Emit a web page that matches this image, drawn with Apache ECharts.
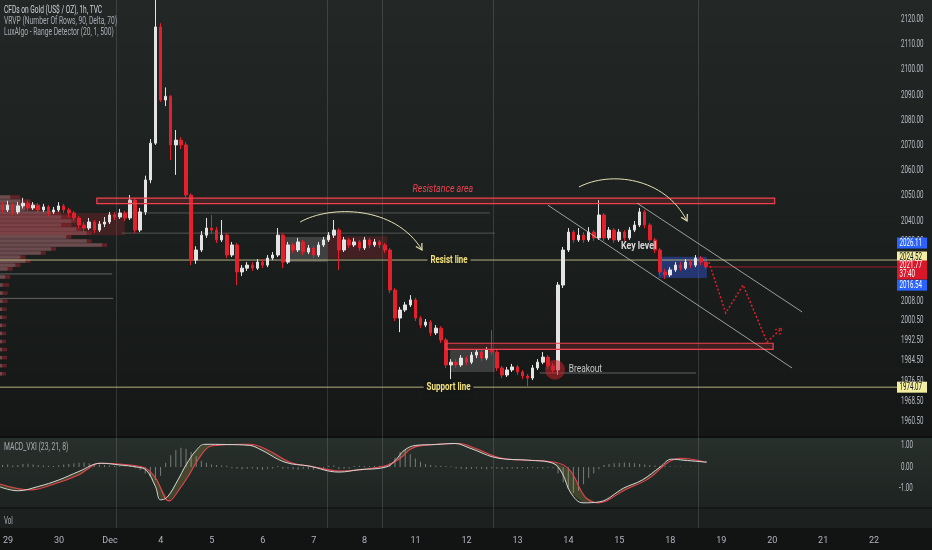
<!DOCTYPE html>
<html><head><meta charset="utf-8">
<script src="https://cdn.jsdelivr.net/npm/echarts@6/dist/echarts.min.js"></script>
<style>html,body{margin:0;padding:0;background:#131514;}#c{width:932px;height:550px;}</style>
</head><body><div id="c"></div>
<script>
// ---------- data ----------
const dayLabels = ['29','30','Dec','4','5','6','7','8','11','12','13','14','15','18','19','20','21','22'];
// [open, close, low, high]
const candles = [
[2046.3,2044.4,2043.2,2047.5],[2044.4,2046.3,2043.6,2048.0],[2046.3,2043.6,2042.4,2047.1],[2043.6,2046.0,2042.8,2047.5],
[2046.0,2047.1,2045.0,2049.2],[2047.1,2045.2,2044.0,2048.0],[2045.2,2046.3,2044.4,2047.5],[2046.3,2044.4,2043.2,2047.1],
[2044.4,2045.6,2043.6,2046.8],[2045.6,2043.6,2042.0,2046.3],[2043.6,2044.4,2042.8,2045.6],[2044.4,2046.0,2043.6,2047.5],
[2046.0,2044.4,2043.2,2046.8],[2044.4,2043.2,2041.6,2045.2],[2043.2,2041.2,2040.0,2044.0],[2041.2,2038.4,2037.2,2042.0],
[2038.4,2037.2,2035.6,2039.6],[2037.2,2039.6,2036.4,2041.2],[2039.6,2036.4,2035.2,2040.4],[2036.4,2038.8,2035.6,2040.0],
[2038.8,2039.6,2037.6,2041.6],[2039.6,2042.4,2038.8,2043.6],[2042.4,2041.6,2040.4,2043.6],[2041.6,2043.2,2040.8,2044.8],
[2043.2,2041.2,2040.0,2044.0],[2041.2,2048.3,2040.4,2050.3],[2048.3,2036.4,2035.2,2049.2],[2036.4,2043.6,2035.6,2045.2],
[2043.6,2056.3,2042.4,2058.0],[2056.3,2070.9,2055.0,2072.5],[2070.9,2117.0,2070.2,2135.0],[2117.0,2088.0,2087.2,2118.5],
[2088.0,2089.5,2085.6,2093.0],[2089.5,2070.2,2064.2,2090.0],[2070.2,2072.1,2058.3,2076.1],[2072.1,2070.2,2068.6,2073.3],
[2070.2,2050.3,2049.2,2071.3],[2050.3,2024.5,2022.5,2051.0],[2024.5,2028.5,2023.0,2030.0],[2028.5,2034.4,2027.7,2036.0],
[2034.4,2037.2,2033.3,2041.2],[2037.2,2036.4,2034.8,2042.4],[2036.4,2032.5,2031.3,2037.6],[2032.5,2034.4,2031.7,2040.4],
[2034.4,2026.5,2025.3,2035.2],[2026.5,2030.5,2025.7,2031.7],[2030.5,2019.8,2014.6,2031.3],[2019.8,2021.3,2018.2,2022.5],
[2021.3,2022.5,2020.2,2023.7],[2022.5,2021.3,2020.2,2023.7],[2021.3,2023.7,2020.6,2024.9],[2023.7,2022.5,2021.3,2024.9],
[2022.5,2025.3,2021.7,2026.5],[2025.3,2026.5,2024.5,2027.7],[2026.5,2034.4,2025.7,2037.2],[2034.4,2023.7,2021.3,2035.2],
[2023.7,2030.5,2023.0,2031.7],[2030.5,2028.5,2027.3,2031.3],[2028.5,2031.7,2027.7,2033.3],[2031.7,2027.7,2026.5,2032.5],
[2027.7,2029.3,2026.9,2030.5],[2029.3,2026.5,2025.3,2030.1],[2026.5,2030.5,2025.7,2031.7],[2030.5,2032.5,2029.7,2033.7],
[2032.5,2034.4,2031.7,2035.6],[2034.4,2036.4,2033.3,2040.4],[2036.4,2028.5,2020.6,2037.2],[2028.5,2032.5,2027.7,2033.7],
[2032.5,2030.5,2029.3,2033.3],[2030.5,2031.7,2029.7,2033.3],[2031.7,2029.3,2028.1,2032.5],[2029.3,2032.5,2028.5,2033.7],
[2032.5,2030.5,2029.3,2033.3],[2030.5,2031.7,2029.7,2032.9],[2031.7,2030.5,2029.3,2032.5],[2030.5,2028.5,2027.3,2031.3],
[2028.5,2012.6,2011.4,2029.3],[2012.6,2001.5,2000.3,2013.4],[2001.5,2004.7,1995.9,2005.9],[2004.7,2006.7,2003.9,2007.9],
[2006.7,2008.7,2005.9,2010.6],[2008.7,2001.5,2000.3,2009.5],[2001.5,1998.7,1997.5,2002.3],[1998.7,1999.9,1997.9,2001.1],
[1999.9,1995.6,1994.4,2000.7],[1995.6,1997.5,1994.8,1998.7],[1997.5,1992.8,1991.6,1998.3],[1992.8,1982.9,1981.7,1993.6],
[1982.9,1984.0,1977.3,1985.2],[1984.0,1982.9,1981.7,1985.2],[1982.9,1985.6,1982.1,1986.8],[1985.6,1984.0,1982.9,1986.4],
[1984.0,1986.8,1983.2,1988.0],[1986.8,1988.0,1985.6,1989.2],[1988.0,1985.6,1984.4,1988.8],[1985.6,1988.8,1984.8,1990.0],
[1988.8,1988.0,1986.8,1996.7],[1988.0,1981.7,1980.5,1989.2],[1981.7,1978.9,1977.7,1982.5],[1978.9,1980.9,1978.1,1982.1],
[1980.9,1982.1,1980.1,1983.3],[1982.1,1980.1,1978.9,1982.9],[1980.1,1978.5,1977.3,1980.9],[1978.5,1977.7,1974.1,1979.3],
[1977.7,1981.7,1976.9,1982.9],[1981.7,1984.0,1980.9,1985.2],[1984.0,1986.0,1983.2,1988.0],[1986.0,1982.5,1981.3,1986.8],
[1982.5,1980.9,1979.7,1983.7],[1980.9,2014.6,1978.9,2015.8],[2014.6,2028.5,2013.4,2029.7],[2028.5,2035.6,2027.7,2037.2],
[2035.6,2032.5,2031.3,2036.4],[2032.5,2034.4,2031.7,2037.2],[2034.4,2032.5,2031.3,2035.6],[2032.5,2035.6,2031.7,2037.6],
[2035.6,2033.3,2032.1,2036.4],[2033.3,2042.4,2032.5,2048.3],[2042.4,2033.3,2032.1,2043.2],[2033.3,2036.4,2032.5,2037.6],
[2036.4,2032.5,2031.3,2037.2],[2032.5,2035.6,2031.7,2036.8],[2035.6,2033.3,2032.1,2036.4],[2033.3,2036.4,2032.5,2037.6],
[2036.4,2038.4,2035.6,2040.0],[2038.4,2043.6,2037.6,2045.2],[2043.6,2038.4,2037.2,2044.4],[2038.4,2032.5,2031.3,2039.2],
[2032.5,2028.5,2027.3,2033.3],[2028.5,2019.8,2018.6,2029.3],[2019.8,2018.6,2017.0,2021.0],[2018.6,2020.6,2017.8,2021.7],
[2020.6,2022.5,2019.8,2023.7],[2022.5,2021.3,2020.2,2023.7],[2021.3,2023.7,2020.6,2024.9],[2023.7,2022.5,2021.3,2024.5],
[2022.5,2025.3,2021.7,2026.5],[2025.3,2023.7,2022.5,2026.1],[2023.7,2021.8,2021.0,2024.5]
];
const priceTicks = [2120,2110,2100,2090,2080,2070,2060,2050,2040,2032,2008,2000.5,1992.5,1984.5,1976.5,1968.5,1960.5];
const macdTicks = [1,0,-1];
const macdPts = [[-0.5,-0.92],[3,-1.1],[7,-0.9],[11,-0.6],[15,-0.2],[19.3,0.18],[23,0.1],[26.4,0.0],[28.2,-0.14],[30,-0.9],[31,-1.52],[32.3,-1.4],[34.4,-0.6],[36,0.1],[38,0.78],[39.7,1.06],[44,1.05],[48.5,1.01],[50.9,0.78],[55.4,0.23],[60.1,0.05],[66,-0.23],[70,-0.12],[75.2,0.0],[77,0.3],[78.8,0.78],[81.1,1.01],[85,1.05],[88.8,1.1],[91.7,0.88],[97.4,0.41],[103.3,0.32],[108,0.18],[109.8,-0.28],[111.5,-1.2],[113.9,-1.66],[117.2,-1.61],[121.9,-0.97],[125.5,-0.6],[129,0.0],[131.3,0.37],[133.7,0.32],[138.2,0.23]];
const signalPts = [[-0.5,-0.78],[5.4,-1.06],[10,-0.8],[15,-0.35],[19.1,0.18],[24,0.12],[28,-0.05],[30,-0.5],[32.7,-1.57],[34.5,-1.1],[36.8,-0.28],[38.5,0.4],[40.3,0.92],[42,1.01],[48.5,1.06],[52,0.8],[56.4,0.23],[61,0.02],[66.2,-0.18],[75,0.05],[78,0.4],[80,0.83],[82,1.0],[89.7,1.1],[92.7,0.88],[98,0.41],[108.4,0.23],[111.3,-0.14],[114.3,-1.38],[116.8,-1.66],[122.1,-1.06],[127,-0.5],[130.6,0.23],[133,0.41],[138,0.23]];
const macdHist = [0.10,0.12,0.08,0.10,0.14,0.16,0.12,0.10,0.08,0.06,
0.05,0.08,0.12,0.14,0.18,0.20,0.22,0.18,0.15,0.12,
0.10,0.08,0.06,0.05,0.04,0.06,-0.05,-0.15,-0.30,-0.45,
-0.60,-0.40,0.20,0.55,0.80,0.90,0.85,0.70,0.50,0.30,
0.20,0.12,0.10,0.08,0.06,-0.05,-0.08,-0.10,-0.08,-0.06,
-0.10,-0.12,-0.08,-0.06,0.05,-0.08,-0.06,-0.10,-0.12,-0.08,
-0.10,-0.12,-0.08,-0.06,0.06,0.08,-0.10,-0.08,-0.06,0.05,
0.06,0.05,0.04,0.05,0.06,0.08,0.20,0.45,0.70,0.80,
0.60,0.40,0.25,0.15,0.10,0.08,0.06,0.05,0.04,-0.05,
-0.08,-0.10,-0.08,-0.06,-0.08,-0.10,-0.06,-0.08,-0.10,-0.08,
-0.06,-0.08,-0.05,-0.06,-0.04,-0.05,-0.06,-0.04,-0.05,-0.30,
-0.70,-1.00,-1.20,-1.10,-0.80,-0.50,-0.30,-0.10,0.10,0.15,
0.18,0.20,0.22,0.20,0.18,0.15,0.12,0.10,0.08,0.06,
0.05,0.04,0.03,0.03,0.02,0.02,0.02,0.01,0.01];
// volume profile rows: [price, up length, total length] (length in bar units)
const vrvpRows = [[2049.5,2,4],[2047.9,4,6],[2046.3,5,7],[2044.8,5,8],[2043.2,10,12],[2041.6,12,14],[2040.0,14,15],[2038.4,12,14],[2036.8,15,16],[2035.2,17,18],[2033.7,13,14],[2032.1,17,18],[2030.5,20,21],[2028.9,10,11],[2027.3,8,9],[2025.7,4,5],[2024.1,5,6],[2022.5,3,4],[2021.0,1.5,2.5],[2017.8,1,2],[2014.6,0.5,1.8],[2011.4,0.5,1.5],[2008.2,0.5,1.5],[2005.0,0.4,1.3],[2001.8,0.4,1.3],[1998.6,0.4,1.2],[1995.4,0.4,1.2],[1992.2,0.4,1.2],[1989.0,0.4,1.4],[1985.8,0.4,1.4],[1982.6,0.4,1.3],[1979.4,0.4,1.2]];
const vrvpLines = [[2019.0,21.5],[2009.3,21.7]];
// annotations (bar index, price)
const sessionLines = [22.3,63.6,74.4,96.2,136.4];
const resistArea = [18.5,151.5,2049.1,2046.9];
const supportBox = [87.0,151.2,1991.5,1989.1];
const rangeBoxes = [[-0.5,24.0,2043.2,2034.4,'r'],[55.3,63.7,2033.7,2023.7,'g'],[63.7,75.5,2034.0,2025.0,'r'],[87.8,96.6,1988.8,1980.1,'g'],[128.7,138.2,2025.8,2017.4,'b']];
const rangeLines = [[24.4,95.6,2043.2],[23.4,96.6,2035.2]];
const resistLevel = 2024.52, supportLevel = 1974.07, lastPrice = 2021.77;
const upperChannel = [[124.5,2047.1],[156.9,2003.9]];
const lowerChannel = [[107.0,2046.3],[154.9,1981.7]];
const projection = [[138.6,2023.7],[141.9,2003.5],[145.3,2014.6],[150.0,1992.0],[152.9,1997.5]];
const arc1 = [[58.4,2039.6],[64.2,2046.3],[77.0,2046.3],[82.3,2028.5]];
const arc2 = [[113.1,2053.5],[119.2,2059.9],[129.9,2057.5],[134.3,2040.0]];
const breakoutPt = [108.4,1981.0];
const breakoutLine = [105.4,136.1,1979.7];
// tag: [price, background, text colour, vertical nudge px]
const tags = [[1974.07,'#f4eea0','#131722',0],[2016.54,'#2962ff','#ffffff',5],[2026.11,'#2962ff','#ffffff',-13],[2024.52,'#f4eea0','#131722',-3],[2021.77,'#d8182a','#ffffff',-1]];

// ---------- chart ----------
const N = 176;
const cats = [];
for (let i = 0; i < N; i++) {
  const d = Math.floor((i - 1) / 10), s = ((i - 1) % 10 + 10) % 10;
  cats.push((d < 0 ? '28' : dayLabels[d]) + '|' + s + '|' + i);
}
const chart = echarts.init(document.getElementById('c'));
const W = 897;
const bg = [
  {type:'rect', z:-10, shape:{x:0,y:0,width:932,height:437}, style:{fill:new echarts.graphic.LinearGradient(0,0,0,1,[{offset:0,color:'#232826'},{offset:1,color:'#141716'}])}},
  {type:'rect', z:-10, shape:{x:0,y:437,width:932,height:71}, style:{fill:new echarts.graphic.LinearGradient(0,0,0,1,[{offset:0,color:'#28302c'},{offset:1,color:'#1d2320'}])}},
  {type:'rect', z:-10, shape:{x:0,y:508,width:932,height:20}, style:{fill:'#1c211f'}},
  {type:'rect', z:-10, shape:{x:0,y:528,width:932,height:22}, style:{fill:'#121413'}},
  {type:'rect', z:-9, shape:{x:0,y:436,width:932,height:2}, style:{fill:'#0e100f'}},
  {type:'rect', z:-9, shape:{x:0,y:507,width:932,height:2}, style:{fill:'#141716'}}
];
chart.setOption({
  animation:false,
  backgroundColor:'#131514',
  grid:[
    {left:0, width:W, top:0, height:437},
    {left:0, width:W, top:437, height:71},
    {left:0, width:W, top:508, height:20}
  ],
  xAxis:[
    {type:'category', data:cats, gridIndex:0, boundaryGap:true, axisLine:{show:false}, axisTick:{show:false}, axisLabel:{show:false}, splitLine:{show:false}},
    {type:'value', gridIndex:0, min:-0.5, max:N-0.5, show:false},
    {type:'category', data:cats, gridIndex:1, show:false},
    {type:'value', gridIndex:1, min:-0.5, max:N-0.5, show:false},
    {type:'category', data:cats, gridIndex:2, boundaryGap:true, axisLine:{show:false}, axisTick:{show:false}, splitLine:{show:false},
      axisLabel:{show:true, margin:8, color:'#b2b5be', fontSize:9, fontFamily:'Roboto', hideOverlap:false,
        interval:function(idx, val){ return val.split('|')[1] === '0'; },
        formatter:function(val){ return val.split('|')[0]; }}}
  ],
  yAxis:[
    {type:'value', gridIndex:0, min:1954.3, max:2127.7, position:'right', axisLabel:{show:false}, axisLine:{show:false}, axisTick:{show:false}, splitLine:{show:false}},
    {type:'value', gridIndex:1, min:-1.9, max:1.4, show:false, splitLine:{show:false}},
    {type:'value', gridIndex:2, show:false}
  ],
  graphic: bg,
  series:[
    {type:'candlestick', xAxisIndex:0, yAxisIndex:0, data:candles, barWidth:3, clip:true, z:5,
      itemStyle:{color:'#e4e4e4', color0:'#e3202c', borderColor:'#e4e4e4', borderColor0:'#e3202c', borderWidth:1}},
    {type:'bar', xAxisIndex:2, yAxisIndex:1, data:macdHist, barWidth:1, itemStyle:{color:'rgba(205,205,205,0.5)'}, z:2},
    {type:'line', xAxisIndex:3, yAxisIndex:1, data:signalPts, smooth:0.4, symbol:'none', lineStyle:{color:'#e8424e', width:1.1}, z:4},
    {type:'line', xAxisIndex:3, yAxisIndex:1, data:macdPts, smooth:0.4, symbol:'none', lineStyle:{color:'#d6d6d6', width:1}, z:5}
  ]
});

function X(v){ return chart.convertToPixel({xAxisIndex:1}, v); }
function Y(p){ return chart.convertToPixel({yAxisIndex:0}, p); }
function MX(v){ return chart.convertToPixel({xAxisIndex:3}, v); }
function MY(v){ return chart.convertToPixel({yAxisIndex:1}, v); }
const g = bg.slice();
function txt(t, x, y, o){
  o = o || {};
  g.push({type:'text', x:x, y:y, z:o.z || 60, scaleX:o.sx || 0.62, style:{text:t, fill:o.fill || '#b2b5be', fontSize:o.fs || 10, fontFamily:'Roboto',
    fontWeight:o.fw || 'normal', fontStyle:o.fst || 'normal', align:o.align || 'left', verticalAlign:'middle',
    backgroundColor:o.bg, padding:o.pad}});
}
function rectD(x1, x2, p1, p2, style, z){
  const a = X(x1), b = X(x2), c = Y(p1), d = Y(p2);
  g.push({type:'rect', z:z || 1, shape:{x:Math.min(a,b), y:Math.min(c,d), width:Math.abs(b-a), height:Math.abs(d-c)}, style:style});
}
function arrowHead(p, q, color, dash){
  const dx = q[0]-p[0], dy = q[1]-p[1], L = Math.hypot(dx,dy), ux = dx/L, uy = dy/L, s = 7;
  const a = [q[0] - s*(ux*0.87 - uy*0.5), q[1] - s*(uy*0.87 + ux*0.5)];
  const b = [q[0] - s*(ux*0.87 + uy*0.5), q[1] - s*(uy*0.87 - ux*0.5)];
  g.push({type:'polyline', z:30, shape:{points:[a, q, b]}, style:{stroke:color, lineWidth:1.2, fill:null, lineDash:dash}});
}
// session separators
sessionLines.forEach(function(v){
  const x = Math.round(X(v)) + 0.5;
  g.push({type:'line', z:0, shape:{x1:x, y1:0, x2:x, y2:528}, style:{stroke:'rgba(210,210,210,0.16)', lineWidth:1}});
});
// volume profile
vrvpRows.forEach(function(r){
  const y = Y(r[0]);
  const x0 = X(-0.5);
  g.push({type:'rect', z:1, shape:{x:x0, y:y-1.8, width:X(-0.5+r[2])-x0, height:3.6}, style:{fill:'rgba(170,35,45,0.5)'}});
  g.push({type:'rect', z:1, shape:{x:x0, y:y-1.8, width:X(-0.5+r[1])-x0, height:3.6}, style:{fill:'rgba(115,120,120,0.5)'}});
});
vrvpLines.forEach(function(l){
  g.push({type:'line', z:1, shape:{x1:X(-0.5), y1:Y(l[0]), x2:X(l[1]), y2:Y(l[0])}, style:{stroke:'rgba(150,150,150,0.6)', lineWidth:1}});
});
// range boxes
const boxFill = {r:'rgba(160,40,50,0.3)', g:'rgba(190,190,190,0.22)', b:'rgba(45,80,200,0.5)'};
rangeBoxes.forEach(function(b){ rectD(b[0], b[1], b[2], b[3], {fill:boxFill[b[4]]}, 1); });
rangeLines.forEach(function(l){
  g.push({type:'line', z:1, shape:{x1:X(l[0]), y1:Y(l[2]), x2:X(l[1]), y2:Y(l[2])}, style:{stroke:'rgba(150,150,150,0.45)', lineWidth:1}});
});
// level lines
[resistLevel, supportLevel].forEach(function(p){
  g.push({type:'line', z:3, shape:{x1:0, y1:Y(p), x2:W, y2:Y(p)}, style:{stroke:'#cfc98f', lineWidth:1, opacity:0.85}});
});
g.push({type:'line', z:3, shape:{x1:X(candles.length-0.5), y1:Y(lastPrice), x2:W, y2:Y(lastPrice)}, style:{stroke:'rgba(216,24,42,0.7)', lineWidth:1}});
// resistance / support zones
rectD(resistArea[0], resistArea[1], resistArea[2], resistArea[3], {fill:'rgba(242,54,69,0.18)', stroke:'#f04050', lineWidth:1.2}, 8);
rectD(supportBox[0], supportBox[1], supportBox[2], supportBox[3], {fill:'rgba(242,54,69,0.18)', stroke:'#f04050', lineWidth:1.2}, 8);
// channels
[upperChannel, lowerChannel].forEach(function(c){
  g.push({type:'line', z:20, shape:{x1:X(c[0][0]), y1:Y(c[0][1]), x2:X(c[1][0]), y2:Y(c[1][1])}, style:{stroke:'rgba(200,200,200,0.75)', lineWidth:1}});
});
// projection
const pp = projection.map(function(p){ return [X(p[0]), Y(p[1])]; });
g.push({type:'polyline', z:30, shape:{points:pp}, style:{stroke:'#e3202c', lineWidth:1.5, fill:null, lineDash:[2,2]}});
arrowHead(pp[pp.length-2], pp[pp.length-1], '#e3202c', [2,2]);
// arcs
[arc1, arc2].forEach(function(a){
  const q = a.map(function(p){ return [X(p[0]), Y(p[1])]; });
  g.push({type:'bezierCurve', z:30, shape:{x1:q[0][0], y1:q[0][1], cpx1:q[1][0], cpy1:q[1][1], cpx2:q[2][0], cpy2:q[2][1], x2:q[3][0], y2:q[3][1]}, style:{stroke:'#e6e2b4', lineWidth:1, fill:null}});
  arrowHead(q[2], q[3], '#e6e2b4');
});
// breakout
g.push({type:'circle', z:25, shape:{cx:X(breakoutPt[0]), cy:Y(breakoutPt[1]), r:10}, style:{fill:'rgba(200,35,45,0.55)'}});
g.push({type:'line', z:2, shape:{x1:X(breakoutLine[0]), y1:Y(breakoutLine[2]), x2:X(breakoutLine[1]), y2:Y(breakoutLine[2])}, style:{stroke:'rgba(160,160,160,0.55)', lineWidth:1}});
// texts
txt('Resistance area', X(86.4), Y(2052.7), {fill:'#f0414f', fst:'italic', align:'center', fs:11, sx:0.8});
txt('Resist line', X(87.6), Y(resistLevel), {fill:'#f2e27d', fw:'bold', align:'center', fs:11, sx:0.72, bg:'#191c1b', pad:[1,4]});
txt('Support line', X(87.5), Y(supportLevel), {fill:'#f2e27d', fw:'bold', align:'center', fs:11, sx:0.73, bg:'#151817', pad:[1,4]});
txt('Key level', X(124.8), Y(2030.1), {fill:'#d8d8d8', fw:'bold', align:'center', fs:11, sx:0.8});
txt('Breakout', X(111.1), Y(1981.0), {fill:'#c9c9c9', align:'left', fs:11, sx:0.76});
// legend
txt('CFDs on Gold (US$ / OZ), 1h, TVC', 4, 10.5, {fill:'#d1d4dc', fs:10, sx:0.66});
txt('VRVP (Number Of Rows, 90, Delta, 70)', 4, 21.5, {fill:'#a8abb3', fs:10, sx:0.67});
txt('LuxAlgo - Range Detector (20, 1, 500)', 4, 32.5, {fill:'#a8abb3', fs:10, sx:0.67});
txt('MACD_VXI (23, 21, 8)', 4, 447, {fill:'#a8abb3', fs:10, sx:0.68});
txt('Vol', 4, 521, {fill:'#a8abb3', fs:10, sx:0.62});
// price scale labels
priceTicks.forEach(function(p){ txt(p.toFixed(2), 901, Y(p), {fill:'#b8bbc2', fs:10, sx:0.62}); });
macdTicks.forEach(function(v){ txt(v.toFixed(2), v < 0 ? 899 : 901, MY(v), {fill:'#b8bbc2', fs:10, sx:0.62}); });
// tags
tags.forEach(function(t, k){
  const y = Y(t[0]) + t[3];
  const isLast = t[0] === lastPrice;
  g.push({type:'rect', z:70 + k * 2, shape:{x:897, y:y - 5.5, width:30, height:isLast ? 19 : 11}, style:{fill:t[1]}});
  txt(t[0].toFixed(2), 899.5, y, {fill:t[2], fs:10, sx:0.62, z:71 + k * 2});
  if (isLast) txt('37:40', 899.5, y + 9, {fill:t[2], fs:10, sx:0.62, z:71 + k * 2});
});
// macd fill
const poly = macdPts.map(function(p){ return [MX(p[0]), MY(p[1])]; }).concat(signalPts.slice().reverse().map(function(p){ return [MX(p[0]), MY(p[1])]; }));
g.push({type:'polygon', z:1, shape:{points:poly}, style:{fill:'rgba(130,130,60,0.35)'}});
chart.setOption({graphic: g});
</script>
</body></html>
